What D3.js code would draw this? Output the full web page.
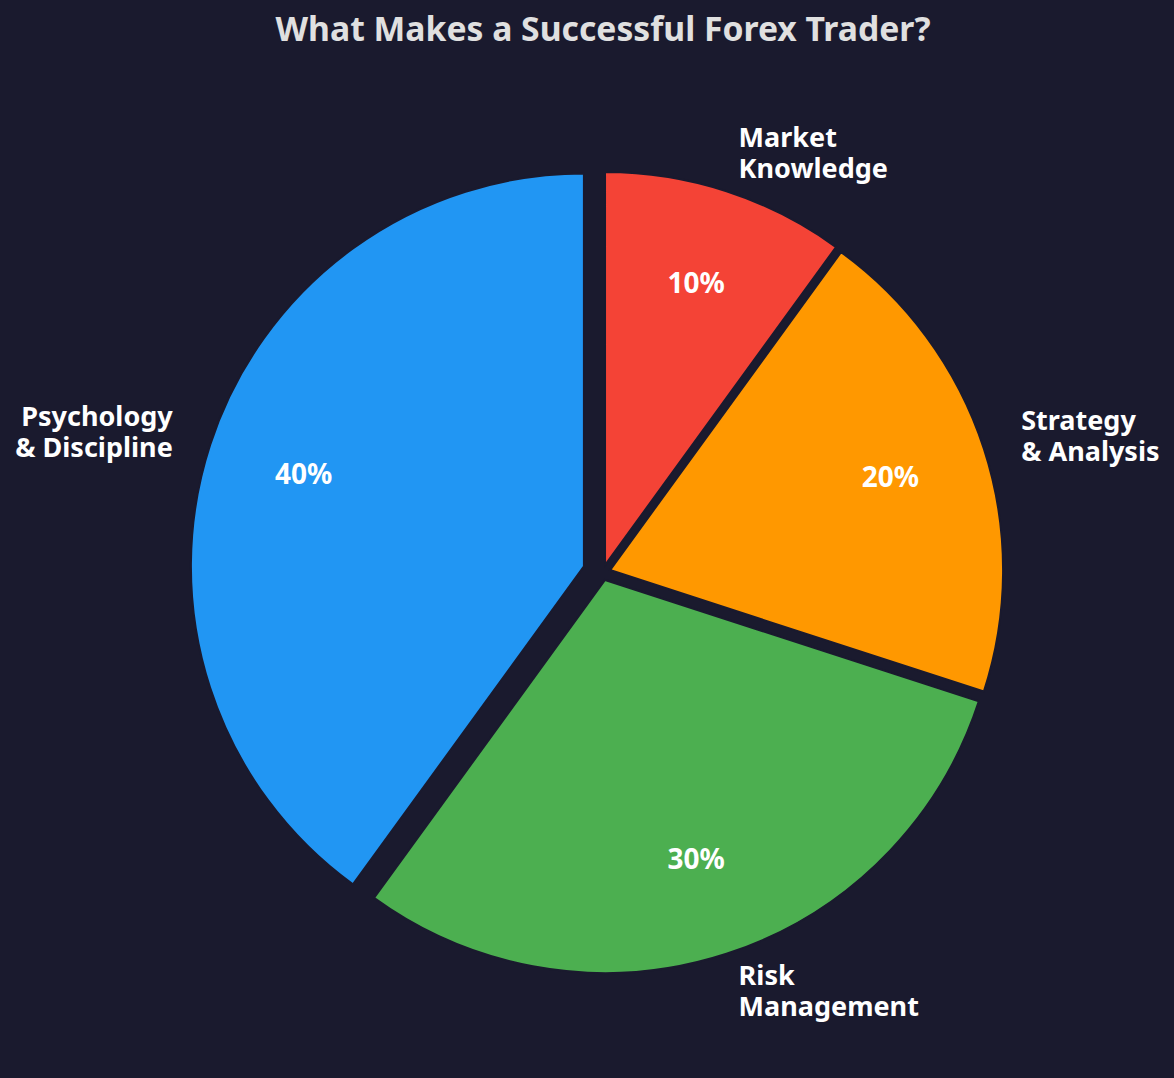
<!DOCTYPE html>
<html><head><meta charset="utf-8">
<script src="https://cdn.jsdelivr.net/npm/d3@7"></script>
<style>
html,body{margin:0;padding:0;background:#1a1a2e;}
svg{display:block;}
text{font-family:"Noto Sans","Open Sans",sans-serif;font-weight:bold;}
</style></head>
<body>
<svg id="chart" width="1174" height="1078"></svg>
<script>
const title = "What Makes a Successful Forex Trader?";
const categories = ["Psychology\n& Discipline", "Risk\nManagement", "Strategy\n& Analysis", "Market\nKnowledge"];
const values = [40, 30, 20, 10];
const colors = ["#2196F3", "#4CAF50", "#FF9800", "#F44336"];
const explode = [0.05, 0.02, 0.02, 0.02];

const W = 1174, H = 1078;
const cx = 602.6, cy = 572.5, R = 393;
const bg = "#1a1a2e";
const svg = d3.select("#chart");
svg.append("rect").attr("width", W).attr("height", H).attr("fill", bg);

const pie = d3.pie().sort(null).startAngle(0).endAngle(-2 * Math.PI);
const arcs = pie(values);
const arc = d3.arc().innerRadius(0).outerRadius(R);
const total = d3.sum(values);

const g = svg.append("g").attr("transform", `translate(${cx},${cy})`);

arcs.forEach((d, i) => {
  const mid = (d.startAngle + d.endAngle) / 2;
  const ux = Math.sin(mid), uy = -Math.cos(mid);
  const ox = ux * explode[i] * R, oy = uy * explode[i] * R;
  const sg = g.append("g").attr("transform", `translate(${ox},${oy})`);
  sg.append("path").attr("d", arc(d)).attr("fill", colors[i])
    .attr("stroke", bg).attr("stroke-width", 2);
  const pd = 0.75 * R;
  sg.append("text").attr("x", ux * pd).attr("y", uy * pd - 2.5)
    .attr("text-anchor", "middle").attr("dominant-baseline", "central")
    .attr("fill", "#ffffff").attr("font-size", 28)
    .text(Math.round(values[i] / total * 100) + "%");
  const ld = 1.1 * R;
  const lines = categories[i].split("\n");
  const lh = 31;
  const t = sg.append("text").attr("x", ux * ld).attr("y", uy * ld - 1.5)
    .attr("text-anchor", ux >= 0 ? "start" : "end")
    .attr("fill", "#ffffff").attr("font-size", 27);
  lines.forEach((ln, k) => {
    t.append("tspan").attr("x", ux * ld)
      .attr("y", uy * ld - 1.5 + (k - (lines.length - 1) / 2) * lh)
      .attr("dominant-baseline", "central").text(ln);
  });
});

svg.append("text").attr("x", 603).attr("y", 41)
  .attr("text-anchor", "middle").attr("fill", "#e0e0e0")
  .attr("font-size", 33.7).text(title);
</script>
</body></html>
